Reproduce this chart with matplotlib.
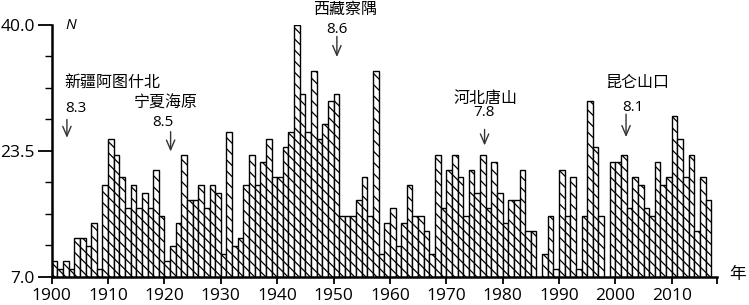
import matplotlib
matplotlib.use("Agg")
import matplotlib.pyplot as plt
import numpy as np

# annual counts (N) per year; 1986 and 1998 have no bar
years = list(range(1900, 1986)) + list(range(1987, 1998)) + list(range(1999, 2017))
counts = [
    9, 8, 9, 8, 12, 12, 11, 14, 8, 19,          # 1900s
    25, 23, 20, 16, 19, 16, 18, 16, 21, 15,     # 1910s
    9, 11, 14, 23, 17, 17, 19, 16, 19, 18,      # 1920s
    10, 26, 11, 12, 19, 23, 19, 22, 25, 20,     # 1930s
    20, 24, 26, 40, 31, 26, 34, 25, 27, 30,     # 1940s
    31, 15, 15, 15, 17, 20, 15, 34, 10, 14,     # 1950s
    16, 11, 14, 19, 15, 15, 13, 10, 23, 16,     # 1960s
    21, 23, 20, 15, 21, 18, 23, 16, 22, 18,     # 1970s
    14, 17, 17, 21, 13, 13,                     # 1980-1985
    10, 15, 8, 21, 15, 20, 8, 15, 30, 24, 15,   # 1987-1997
    22, 22, 23, 16, 20, 19, 16, 15, 22, 19,     # 1999-2008
    20, 28, 25, 20, 23, 13, 20, 17,             # 2009-2016
]

yticks = [7.0, 23.5, 40.0]
xticks = list(range(1900, 2011, 10))

# events: name, magnitude, year of arrow
ev_names = ["新疆阿图什北", "宁夏海原", "西藏察隅", "河北唐山", "昆仑山口"]
ev_mags = ["8.3", "8.5", "8.6", "7.8", "8.1"]
ev_years = [1902.7, 1921.1, 1950.6, 1976.8, 2001.9]

plt.rcParams["hatch.linewidth"] = 0.9

fig = plt.figure(figsize=(7.49, 3.05), dpi=100)
ax = fig.add_axes([0.069, 0.0934, 0.888, 0.8246])

ax.bar(years, counts, width=1.0, align="edge", bottom=0,
       color="white", edgecolor="black", linewidth=1.0, hatch="\\\\\\")

ax.set_xlim(1900, 2018)
ax.set_ylim(7, 40)

ax.set_yticks(yticks)
ax.set_yticklabels(["7.0", "23.5", "40.0"])
ax.set_yticks(np.arange(7, 40.01, 33 / 8), minor=True)
ax.set_xticks(xticks + [2018])
ax.set_xticklabels([str(x) for x in xticks] + [""])

for s in ["top", "right"]:
    ax.spines[s].set_visible(False)
for s in ["left", "bottom"]:
    ax.spines[s].set_linewidth(1.8)

tf = "Open Sans"
ax.tick_params(axis="y", which="major", direction="out", length=10, width=1.3,
               pad=2, labelsize=12.5)
ax.tick_params(axis="y", which="minor", direction="out", length=5, width=1.0)
ax.tick_params(axis="x", which="major", direction="out", length=5, width=1.3,
               pad=3, labelsize=12.5)
for lab in ax.get_xticklabels() + ax.get_yticklabels():
    lab.set_family(tf)

ax.text(1902.5, 40, "N", style="italic", fontsize=11, family=tf,
        ha="left", va="center")
ax.text(2021.7, 7.2, "年", fontsize=12, family="Noto Sans CJK SC",
        ha="center", va="center", clip_on=False)

cjk = "Noto Sans CJK SC"
name_xy = [(1910.7, 32.5), (1920.2, 29.7), (1952.1, 42.0), (1977.0, 30.4), (2003.8, 32.5)]
mag_xy = [(1904.3, 29.1), (1919.7, 27.2), (1950.6, 39.4), (1976.6, 28.5), (2003.1, 29.2)]
arr_y = [(27.6, 25.2), (26.0, 23.4), (38.5, 35.8), (26.3, 24.2), (28.3, 25.3)]

for i in range(len(ev_names)):
    ax.text(name_xy[i][0], name_xy[i][1], ev_names[i], fontsize=11.5, family=cjk,
            ha="center", va="center", clip_on=False)
    ax.text(mag_xy[i][0], mag_xy[i][1], ev_mags[i], fontsize=11, family=tf,
            ha="center", va="center", clip_on=False)
    ax.annotate("", xy=(ev_years[i], arr_y[i][1]), xytext=(ev_years[i], arr_y[i][0]),
                arrowprops=dict(arrowstyle="->,head_length=0.7,head_width=0.3",
                                color="#333333", lw=1.0, shrinkA=0, shrinkB=0))

fig.savefig("out.png", dpi=100)
